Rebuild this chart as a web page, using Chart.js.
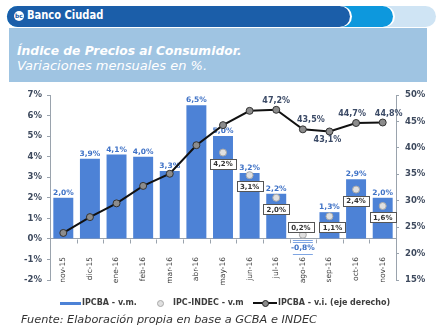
<!DOCTYPE html>
<html><head><meta charset="utf-8">
<script src="https://cdn.jsdelivr.net/npm/chart.js@4/dist/chart.umd.min.js"></script>
<style>
html,body{margin:0;padding:0;background:#fff;width:448px;height:336px;overflow:hidden;font-family:"DejaVu Sans",sans-serif}
.abs{position:absolute}
.pill{position:absolute;top:6px;left:7px;height:21px;border-radius:11px}
#c{position:absolute;left:0;top:0}
.leg{position:absolute;top:297px;font:bold 8px "DejaVu Sans",sans-serif;color:#3d3d3d;line-height:12px;white-space:nowrap}
</style></head>
<body>
<div class="pill" style="width:429px;background:#cfe4f4"></div>
<div class="pill" style="width:386px;background:#0d98dd;box-shadow:2px 0 0 #fff"></div>
<div class="pill" style="width:343px;background:#1b5ea9;box-shadow:2px 0 0 #fff"></div>
<div class="abs" style="left:14px;top:11px;width:10px;height:10px;border-radius:50%;background:#fff;color:#1b5ea9;font:bold 6px 'DejaVu Sans';line-height:10px;text-align:center">bc</div>
<div class="abs" style="left:27px;top:7px;height:21px;line-height:21px;color:#fff;font:bold 13px 'Liberation Sans Narrow','DejaVu Sans Condensed',sans-serif;transform:scaleX(0.85);transform-origin:0 50%;white-space:nowrap">Banco Ciudad</div>
<div class="abs" style="left:9px;top:28px;width:418px;height:54px;background:#9fc4e2"></div>
<div class="abs" style="left:17px;top:43px;color:#fff;font:bold oblique 12.3px 'DejaVu Sans',sans-serif;line-height:16px;white-space:nowrap">Índice de Precios al Consumidor.</div>
<div class="abs" style="left:17px;top:58px;color:#fff;font:oblique 13px 'DejaVu Sans',sans-serif;line-height:16px;white-space:nowrap">Variaciones mensuales en %.</div>
<canvas id="c" width="448" height="336"></canvas>
<div class="abs" style="left:60px;top:302px;width:21px;height:3px;background:#4d82d6"></div>
<div class="leg" style="left:82px">IPCBA - v.m.</div>
<div class="abs" style="left:157px;top:300px;width:5px;height:5px;border-radius:50%;background:#e0e0e0;border:1px solid #a8a8a8;box-sizing:content-box"></div>
<div class="leg" style="left:173px">IPC-INDEC - v.m</div>
<div class="abs" style="left:253px;top:302px;width:24px;height:2px;background:#111"></div>
<div class="abs" style="left:262px;top:300px;width:5px;height:5px;border-radius:50%;background:#8c8c8c;border:1px solid #222"></div>
<div class="leg" style="left:278px">IPCBA - v.i. (eje derecho)</div>
<div class="abs" style="left:21px;top:313px;font:oblique 11.3px 'DejaVu Sans',sans-serif;color:#333;line-height:14px;white-space:nowrap">Fuente: Elaboración propia en base a GCBA e INDEC</div>
<script>
const categories = ['nov-15','dic-15','ene-16','feb-16','mar-16','abr-16','may-16','jun-16','jul-16','ago-16','sep-16','oct-16','nov-16'];
const ipcbaVm = [2.0, 3.9, 4.1, 4.0, 3.3, 6.5, 5.0, 3.2, 2.2, -0.8, 1.3, 2.9, 2.0];
const indecVm = [null, null, null, null, null, null, 4.2, 3.1, 2.0, 0.2, 1.1, 2.4, 1.6];
const ipcbaVi = [23.9, 26.9, 29.5, 32.8, 35.1, 40.5, 44.3, 47.0, 47.2, 43.5, 43.1, 44.7, 44.8];
const viLabelFrom = 8;
const leftMin = -2, leftMax = 7, leftStep = 1;
const rightMin = 15, rightMax = 50, rightStep = 5;

const BAR = '#4d82d6', AXIS = '#9aa3ad', TICK = '#3e4a5e';
const fmt = v => v.toFixed(1).replace('.', ',') + '%';
const viLabelDx = {8: 0, 9: 8, 10: -2, 11: -4, 12: 6};
const boxDx = {9: -2, 10: 3};

function stripe() {
  const p = document.createElement('canvas'); p.width = 4; p.height = 2;
  const g = p.getContext('2d'); g.fillStyle = '#fff'; g.fillRect(0,0,4,2);
  g.fillStyle = '#7ea5e3'; g.fillRect(0,0,4,1);
  return document.getElementById('c').getContext('2d').createPattern(p, 'repeat');
}
const negFill = stripe();

const labelPlugin = {
  id: 'labels',
  beforeDatasetsDraw(chart) {
    const {ctx, scales: {x, y}} = chart;
    const y0 = Math.round(y.getPixelForValue(0)) + 0.5;
    const half = (x.getPixelForValue(1) - x.getPixelForValue(0)) / 2;
    ctx.save(); ctx.strokeStyle = AXIS; ctx.lineWidth = 1;
    for (let i = 0; i <= categories.length; i++) {
      const px = Math.round(x.getPixelForValue(i) - half) + 0.5;
      ctx.beginPath(); ctx.moveTo(px, y0); ctx.lineTo(px, y0 + 4); ctx.stroke();
    }
    ctx.restore();
  },
  afterDatasetDraw(chart, args) {
    const ctx = chart.ctx, meta = args.meta, idx = args.index;
    ctx.save();
    ctx.textAlign = 'center';
    if (idx === 0) {
      ctx.font = 'bold 7.5px "DejaVu Sans"';
      meta.data.forEach((el, i) => {
        const v = ipcbaVm[i];
        if (v >= 0) {
          ctx.fillStyle = '#3f72c6'; ctx.textBaseline = 'bottom';
          ctx.fillText(fmt(v), el.x, el.y - 1);
        } else {
          const cy = el.y - 7;
          const w = ctx.measureText(fmt(v)).width + 4;
          ctx.fillStyle = '#fff'; ctx.fillRect(el.x - w/2, cy - 5, w, 10);
          ctx.fillStyle = '#3f72c6'; ctx.textBaseline = 'middle';
          ctx.fillText(fmt(v), el.x, cy);
        }
      });
    } else if (idx === 1) {
      ctx.font = 'bold 7px "DejaVu Sans"';
      meta.data.forEach((el, i) => {
        const v = indecVm[i];
        if (v === null) return;
        const above = ipcbaVm[i] < v;
        const cx = el.x + (boxDx[i] || 0);
        const cy = above ? el.y - 8 : el.y + 11, w = 26, h = 10;
        const bx = Math.round(cx - w/2) + 0.5, by = Math.round(cy - h/2) + 0.5;
        ctx.fillStyle = '#fff'; ctx.fillRect(bx, by, w, h);
        ctx.strokeStyle = '#555'; ctx.lineWidth = 1; ctx.strokeRect(bx, by, w, h);
        ctx.fillStyle = '#333'; ctx.textBaseline = 'middle';
        ctx.fillText(fmt(v), cx, cy + 1);
      });
    } else if (idx === 2) {
      ctx.font = 'bold 8px "DejaVu Sans"';
      ctx.fillStyle = '#3b4a66'; ctx.textBaseline = 'middle';
      meta.data.forEach((el, i) => {
        if (i < viLabelFrom) return;
        const prev = ipcbaVi[i - 1], next = ipcbaVi[i + 1];
        const below = next !== undefined && ipcbaVi[i] < prev && ipcbaVi[i] < next;
        ctx.fillText(fmt(ipcbaVi[i]), el.x + (viLabelDx[i] || 0), below ? el.y + 8 : el.y - 9);
      });
    }
    ctx.restore();
  }
};

new Chart(document.getElementById('c'), {
  type: 'bar',
  data: {
    labels: categories,
    datasets: [
      { type: 'bar', label: 'IPCBA - v.m.', data: ipcbaVm, yAxisID: 'y', order: 3,
        backgroundColor: ipcbaVm.map(v => v < 0 ? negFill : BAR),
        barPercentage: 0.75, categoryPercentage: 1.0 },
      { type: 'line', label: 'IPC-INDEC - v.m', data: indecVm, yAxisID: 'y', order: 2,
        showLine: false, pointRadius: 3.5, pointBackgroundColor: '#e0e0e0', pointBorderColor: '#a8a8a8', pointBorderWidth: 1 },
      { type: 'line', label: 'IPCBA - v.i. (eje derecho)', data: ipcbaVi, yAxisID: 'y1', order: 1,
        borderColor: '#111', borderWidth: 2, tension: 0,
        pointRadius: 3.5, pointBackgroundColor: '#8c8c8c', pointBorderColor: '#333', pointBorderWidth: 1 }
    ]
  },
  options: {
    responsive: false, animation: false, devicePixelRatio: 1,
    layout: { padding: { top: 95, left: 0, right: 0, bottom: 0 } },
    plugins: { legend: { display: false }, tooltip: { enabled: false } },
    scales: {
      x: {
        grid: { display: false }, border: { display: false },
        ticks: { autoSkip: false, minRotation: 90, maxRotation: 90, mirror: true, padding: 23, labelOffset: 9,
          color: '#404040', font: { family: 'DejaVu Sans', size: 7.5 } },
        afterFit: s => { s.height = 56; }
      },
      y: {
        position: 'left', min: leftMin, max: leftMax,
        ticks: { stepSize: leftStep, callback: v => v + '%', color: TICK, padding: 5,
          font: { family: 'DejaVu Sans', size: 8.5, weight: 'bold' } },
        grid: { color: c => c.tick && c.tick.value === 0 ? AXIS : 'rgba(0,0,0,0)', tickColor: AXIS, tickLength: 3 },
        border: { color: AXIS, width: 1 },
        afterFit: s => { s.width = 50; }
      },
      y1: {
        position: 'right', min: rightMin, max: rightMax,
        ticks: { stepSize: rightStep, callback: v => v + '%', color: TICK, padding: 6,
          font: { family: 'DejaVu Sans', size: 8.5, weight: 'bold' } },
        grid: { drawOnChartArea: false, color: AXIS, tickLength: 3 },
        border: { color: AXIS, width: 1 },
        afterFit: s => { s.width = 52; }
      }
    }
  },
  plugins: [labelPlugin]
});
</script>
</body></html>
